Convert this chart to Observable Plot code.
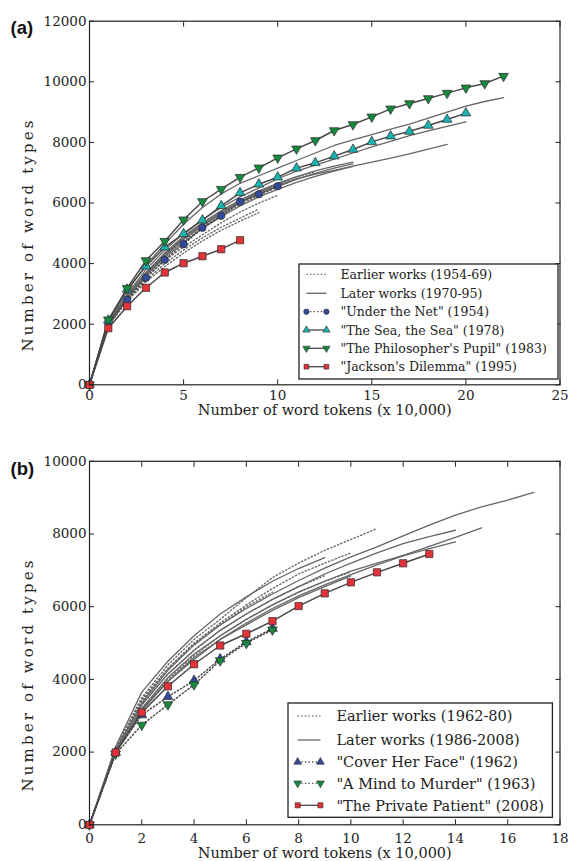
<!DOCTYPE html>
<html><head><meta charset="utf-8">
<script src="https://cdn.jsdelivr.net/npm/d3@7"></script>
<script src="https://cdn.jsdelivr.net/npm/@observablehq/plot@0.6"></script>
<style>
body{margin:0;background:#fff;}
#wrap{position:relative;width:573px;height:861px;overflow:hidden;}
.panel{position:absolute;left:0;}
</style></head><body><div id="wrap"></div>
<script>
// ---------- Panel (a): Iris Murdoch ----------
const tokensA = [0,1,2,3,4,5,6,7,8,9,10,11,12,13,14,15,16,17,18,19,20,21,22];
const xTicksA = [0,5,10,15,20,25];
const yTicksA = [0,2000,4000,6000,8000,10000,12000];
// earlier works (dotted), word types at 0,1,2,... x10,000 tokens
const earlyA1 = [0,1950,2750,3400,3900,4350,4750,5100,5400,5680];
const earlyA2 = [0,2050,2950,3650,4250,4750,5200,5600,5950,6250,6530,6800];
const earlyA3 = [0,2050,2950,3700,4300,4850,5300,5700,6050,6380,6650,6850,7020];
const earlyA4 = [0,2000,2850,3550,4100,4550,4950,5350,5700,6000,6250];
const earlyA5 = [0,1950,2800,3450,4000,4450,4850,5200,5500,5800];
// later works (solid)
const laterA1 = [0,2100,3100,3950,4650,5300,5850,6300,6650,6900,7150,7403,7650,7898,8080,8260,8440,8600,8800,9000,9200,9350,9480];
const laterA2 = [0,2050,3000,3800,4450,5000,5450,5850,6200,6500,6800,7050,7250,7450,7650,7850,8030,8220,8380,8530,8676];
const laterA3 = [0,2000,2900,3650,4300,4850,5300,5700,6050,6350,6600,6800,6950,7080,7220,7347,7480,7624,7780,7931];
const laterA4 = [0,2000,2950,3700,4350,4900,5350,5750,6100,6400,6650,6870,7060,7220,7350];
const laterA5 = [0,1950,2900,3650,4250,4800,5250,5650,6000,6300,6550,6780,6980,7150,7290];
const laterA6 = [0,1950,2850,3600,4200,4700,5150,5550,5900,6200,6450,6680,6880,7050,7210];
// highlighted novels
const underTheNet = [0,2050,2805,3531,4125,4640,5181,5577,6040,6290,6554];
const seaTheSea = [0,2130,3150,3914,4541,4983,5432,5907,6336,6620,6851,7150,7326,7546,7766,8019,8206,8360,8558,8756,8965];
const philosophersPupil = [0,2145,3188,4102,4739,5446,6050,6455,6851,7162,7491,7788,8063,8393,8591,8844,9108,9284,9449,9625,9801,9944,10186];
const jacksonsDilemma = [0,1868,2594,3201,3706,4013,4244,4475,4772];

// ---------- Panel (b): P. D. James ----------
const tokensB = [0,1,2,3,4,5,6,7,8,9,10,11,12,13,14,15,16,17];
const xTicksB = [0,2,4,6,8,10,12,14,16,18];
const yTicksB = [0,2000,4000,6000,8000,10000];
const earlyB1 = [0,2100,3500,4400,5100,5650,6250,6800,7200,7550,7850,8151];
const earlyB2 = [0,2050,3400,4300,5000,5550,6050,6500,6900,7200,7480];
const earlyB3 = [0,2000,3200,4000,4650,5200,5650,6050,6400,6700,6955];
const earlyB4 = [0,2050,3300,4150,4800,5350,5800,6200,6550,6850];
const earlyB5 = [0,2100,3450,4300,4950,5500,6000,6400];
const laterB1 = [0,2050,3350,4250,4950,5500,5950,6350,6720,7060,7370,7645,7949,8243,8518,8748,8933,9145];
const laterB2 = [0,2150,3650,4500,5200,5800,6270,6700,7050,7350];
const laterB3 = [0,2050,3300,4150,4800,5350,5800,6200,6550,6900,7200,7480,7738,7930,8103];
const laterB4 = [0,2000,3200,4050,4700,5200,5650,6050,6400,6700,6980,7200,7415,7660,7910,8170];
const laterB5 = [0,2000,3150,3950,4600,5100,5550,5950,6300,6600,6880,7150,7400,7600,7783];
const laterB6 = [0,2000,3150,3950,4550,5100,5500,5900,6250,6550,6850];
const coverHerFace = [0,1990,3020,3523,3967,4560,5030,5400];
const mindToMurder = [0,1950,2745,3305,3857,4519,4997,5365];
const privatePatient = [0,1989,3093,3810,4417,4932,5255,5603,6017,6367,6670,6946,7194,7451];

const legendA = ["Earlier works (1954-69)","Later works (1970-95)","\"Under the Net\" (1954)","\"The Sea, the Sea\" (1978)","\"The Philosopher's Pupil\" (1983)","\"Jackson's Dilemma\" (1995)"];
const legendB = ["Earlier works (1962-80)","Later works (1986-2008)","\"Cover Her Face\" (1962)","\"A Mind to Murder\" (1963)","\"The Private Patient\" (2008)"];
const xLabel = "Number of word tokens (x 10,000)";
const yLabel = "Number of word types";

// ---------- styles ----------
const GRAY = "#666666";
const LINE = "#474747";
const DOT = "1.3,2.3";
const FONT = "DejaVu Serif";
const symStyle = {
  circle:{symbol:"circle", r:3.7, fill:"#34499c", rotate:0},
  up:{symbol:"triangle", r:3.6, fill:"#1cb2b0", rotate:0},
  upBlue:{symbol:"triangle", r:3.6, fill:"#34499c", rotate:0},
  down:{symbol:"triangle", r:3.6, fill:"#17883e", rotate:180},
  square:{symbol:"square", r:4.1, fill:"#e2333b", rotate:0}
};

function pts(tokens, vals){ return vals.map((v,i)=>({x:tokens[i], y:v})); }

function makePanel(cfg){
  const marks = [];
  for (const s of cfg.early) marks.push(Plot.line(pts(cfg.tokens, s), {x:"x", y:"y", stroke:GRAY, strokeWidth:1.35, strokeDasharray:DOT}));
  for (const s of cfg.later) marks.push(Plot.line(pts(cfg.tokens, s), {x:"x", y:"y", stroke:GRAY, strokeWidth:1.3}));
  for (const m of cfg.marked){
    const d = pts(cfg.tokens, m.vals);
    const st = symStyle[m.sym];
    marks.push(Plot.line(d, {x:"x", y:"y", stroke:LINE, strokeWidth:1.45, strokeDasharray: m.dotted ? DOT : null}));
    marks.push(Plot.dot(d, {x:"x", y:"y", symbol:st.symbol, r:st.r, fill:st.fill, stroke:"#2a2a2a", strokeWidth:0.7, rotate:st.rotate}));
  }
  marks.push(
    Plot.frame({stroke:"#222", strokeWidth:1.2}),
    Plot.axisX({ticks:cfg.xTicks, anchor:"bottom", tickSize:0, tickPadding:cfg.xPad, label:null, tickFormat:d3.format("d"), fontSize:13.5}),
    Plot.axisX({ticks:cfg.xTicks, anchor:"bottom", tickSize:-5, tickFormat:()=>"", label:null, stroke:"#222"}),
    Plot.axisX({ticks:cfg.xTicks, anchor:"top", tickSize:-5, tickFormat:()=>"", label:null, stroke:"#222"}),
    Plot.axisY({ticks:cfg.yTicks, anchor:"left", tickSize:0, tickPadding:3, label:null, tickFormat:d3.format("d"), fontSize:13.5}),
    Plot.axisY({ticks:cfg.yTicks, anchor:"left", tickSize:-5, tickFormat:()=>"", label:null, stroke:"#222"}),
    Plot.axisY({ticks:cfg.yTicks, anchor:"right", tickSize:-5, tickFormat:()=>"", label:null, stroke:"#222"}),
    Plot.text([xLabel], {text:d=>d, frameAnchor:"bottom", textAnchor:"middle", dy:cfg.xLabelDy, fontSize:14.5, fill:"#222"}),
    Plot.text([cfg.tag], {text:d=>d, frameAnchor:"top-left", dx:-79, dy:cfg.tagDy, textAnchor:"start", fontSize:18.5, fontWeight:"bold", fontFamily:"Liberation Sans", fill:"#111"})
  );
  const svg = Plot.plot({
    width:573, height:cfg.height,
    marginLeft:89, marginRight:13.5, marginTop:cfg.mt, marginBottom:cfg.mb,
    x:{domain:cfg.xDomain}, y:{domain:cfg.yDomain},
    style:{fontFamily:FONT, fontSize:"13.5px", color:"#222", background:"transparent", overflow:"visible"},
    marks
  });
  // y-axis title, centred a little below the frame middle as in the reference
  const cy = (cfg.mt + cfg.height - cfg.mb) / 2 + 33.5;
  d3.select(svg).append("text")
    .attr("transform", `translate(33,${cy}) rotate(-90)`)
    .attr("text-anchor","middle")
    .attr("font-family",FONT).attr("font-size",15).attr("fill","#222")
    .attr("textLength",231).attr("lengthAdjust","spacing")
    .text(yLabel);
  return svg;
}

function makeLegend(cfg){
  const svg = d3.create("svg").attr("width", cfg.w+2).attr("height", cfg.h+2)
    .style("position","absolute").style("left",(cfg.left-1)+"px").style("top",(cfg.top-1)+"px").style("overflow","visible");
  svg.append("rect").attr("x",1).attr("y",1).attr("width",cfg.w).attr("height",cfg.h)
    .attr("fill","#fff").attr("stroke","#222").attr("stroke-width",1.3);
  cfg.items.forEach((it,i)=>{
    const y = 1 + cfg.rows[i];
    svg.append("line").attr("x1",1+cfg.lx0).attr("x2",1+cfg.lx1).attr("y1",y).attr("y2",y)
      .attr("stroke", it.sym ? LINE : GRAY).attr("stroke-width",1.3)
      .attr("stroke-dasharray", it.dotted ? DOT : null);
    if (it.sym){
      const st = symStyle[it.sym];
      const type = st.symbol === "circle" ? d3.symbolCircle : st.symbol === "square" ? d3.symbolSquare : d3.symbolTriangle;
      const path = d3.symbol(type, Math.PI*cfg.mr*cfg.mr)();
      for (const x of [cfg.lx0, cfg.lx1]){
        svg.append("path").attr("d", path).attr("fill", st.fill).attr("stroke","#2a2a2a").attr("stroke-width",0.6)
          .attr("transform", `translate(${1+x},${y}) rotate(${st.rotate})`);
      }
    }
    svg.append("text").attr("x",1+cfg.tx).attr("y",y).attr("dy","0.36em")
      .attr("font-family",FONT).attr("font-size",cfg.fs).attr("fill","#222").text(it.label);
  });
  return svg.node();
}

const wrap = document.getElementById("wrap");

const pa = makePanel({
  tokens:tokensA, xTicks:xTicksA, yTicks:yTicksA, xDomain:[0,25], yDomain:[0,12000],
  height:425, mt:20.7, mb:40.7, xPad:6, xLabelDy:30, tag:"(a)", tagDy:-0.5,
  early:[earlyA1,earlyA2,earlyA3,earlyA4,earlyA5],
  later:[laterA1,laterA2,laterA3,laterA4,laterA5,laterA6],
  marked:[
    {vals:underTheNet, sym:"circle", dotted:true},
    {vals:seaTheSea, sym:"up"},
    {vals:philosophersPupil, sym:"down"},
    {vals:jacksonsDilemma, sym:"square"}
  ]
});
pa.classList.add("panel"); pa.style.top = "0px";
wrap.appendChild(pa);

const pb = makePanel({
  tokens:tokensB, xTicks:xTicksB, yTicks:yTicksB, xDomain:[0,18], yDomain:[0,10000],
  height:436, mt:35.8, mb:36.7, xPad:9, xLabelDy:33, tag:"(b)", tagDy:0.5,
  early:[earlyB1,earlyB2,earlyB3,earlyB4,earlyB5],
  later:[laterB1,laterB2,laterB3,laterB4,laterB5,laterB6],
  marked:[
    {vals:coverHerFace, sym:"upBlue", dotted:true},
    {vals:mindToMurder, sym:"down", dotted:true},
    {vals:privatePatient, sym:"square"}
  ]
});
pb.classList.add("panel"); pb.style.top = "425px";
wrap.appendChild(pb);

wrap.appendChild(makeLegend({
  left:299.3, top:264, w:259, h:115, fs:12.5, mr:2.7,
  rows:[10.3,29.3,47.7,66,84.3,102.7], lx0:7.4, lx1:27.4, tx:41.4,
  items:[
    {label:legendA[0], dotted:true},
    {label:legendA[1]},
    {label:legendA[2], sym:"circle", dotted:true},
    {label:legendA[3], sym:"up"},
    {label:legendA[4], sym:"down"},
    {label:legendA[5], sym:"square"}
  ]
}));
wrap.appendChild(makeLegend({
  left:288.3, top:703, w:264.4, h:114.3, fs:14.5, mr:2.9,
  rows:[13,37,59,80.3,102.3], lx0:9.7, lx1:32.4, tx:48.4,
  items:[
    {label:legendB[0], dotted:true},
    {label:legendB[1]},
    {label:legendB[2], sym:"upBlue", dotted:true},
    {label:legendB[3], sym:"down", dotted:true},
    {label:legendB[4], sym:"square"}
  ]
}));
</script></body></html>
